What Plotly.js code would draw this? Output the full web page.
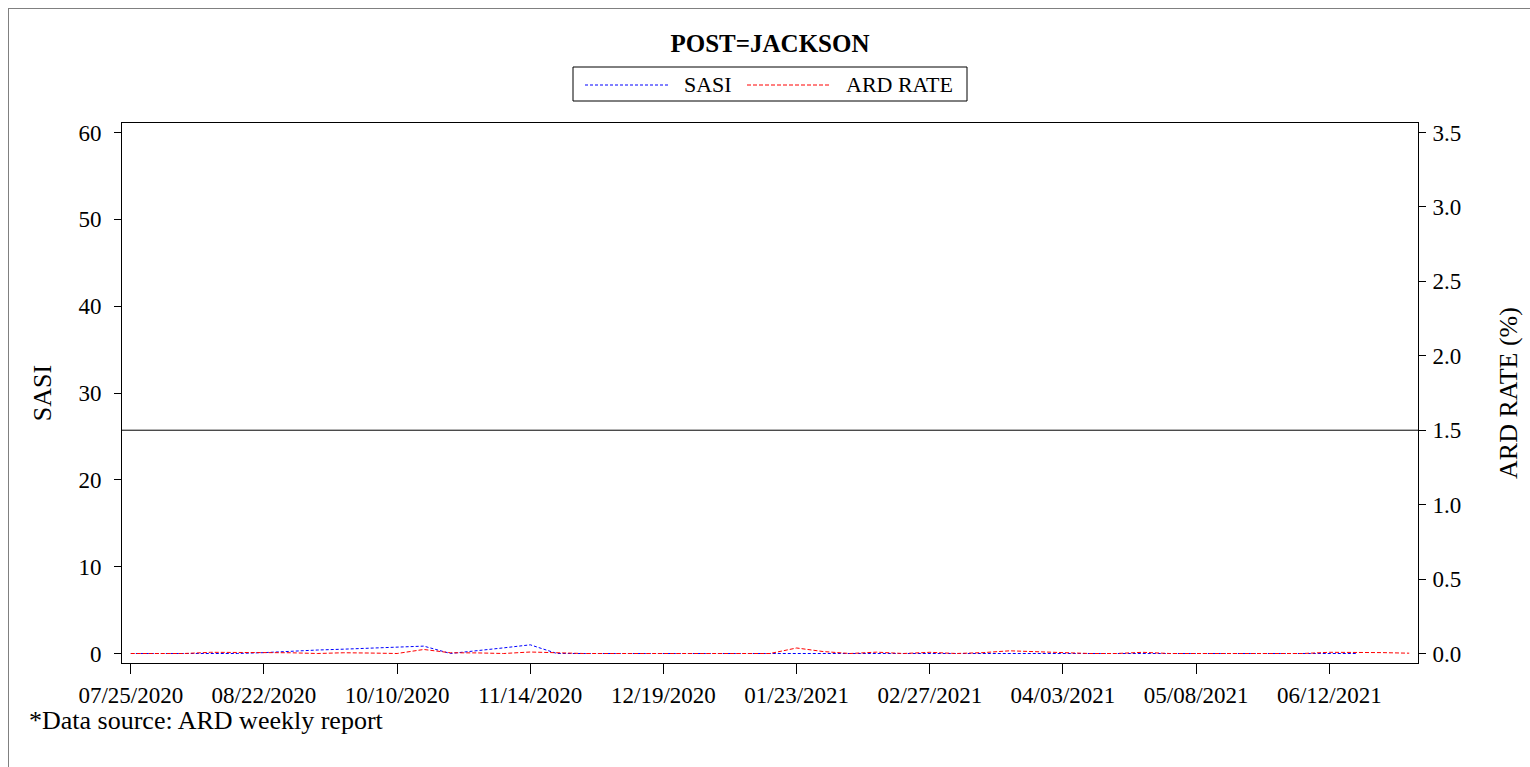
<!DOCTYPE html>
<html>
<head>
<meta charset="utf-8">
<script src="https://cdn.plot.ly/plotly-3.0.1.min.js"></script>
<style>
  html, body { margin: 0; padding: 0; background: #fff; }
  #wrap { position: relative; width: 1530px; height: 767px; overflow: hidden; }
  #frame { position: absolute; left: 8px; top: 8px; width: 1600px; height: 800px;
           border-left: 1px solid #808080; border-top: 1px solid #808080; pointer-events: none; }
  #chart { position: absolute; left: 0; top: 0; width: 1530px; height: 767px; }
</style>
</head>
<body>
<div id="wrap">
  <div id="chart"></div>
  <div id="frame"></div>
</div>
<script>
// ---- data ----
const weekIndex = [0,1,2,3,4,5,6,7,8,9,10,11,12,13,14,15,16,17,18,19,20,21,22,23,24,
                   25,26,27,28,29,30,31,32,33,34,35,36,37,38,39,40,41,42,43,44,45,46,47,48];
const tickIndex = [0,5,10,15,20,25,30,35,40,45];
const tickLabels = ['07/25/2020','08/22/2020','10/10/2020','11/14/2020','12/19/2020',
                    '01/23/2021','02/27/2021','04/03/2021','05/08/2021','06/12/2021'];
const sasiValues = [0,0,0,0,0,0.1,0.28,0.4,0.5,0.6,0.72,0.85,0,0.3,0.65,1.0,
                    0,0,0,0,0,0,0,0,0,0,0,0,0,0,0,0,0,0,0,0,0,0,0,0,0,0,0,0,0,0,0];
const ardValues = [0,0,0,0.008,0.008,0.003,0.005,0,0.005,0.003,0,0.027,0.005,0.004,0,0.01,0.003,
                   0,0,0,0,0,0,0,0,0.037,0.013,0,0.009,0,0.008,0,0.006,0.018,0.012,0.009,0,0,
                   0.008,0,0,0,0,0,0,0.008,0.008,0.006,0.002];
const seriesNames = ['SASI', 'ARD RATE'];
const ardReference = 1.5;
const leftTicks = [0,10,20,30,40,50,60];
const rightTicks = [0.0,0.5,1.0,1.5,2.0,2.5,3.0,3.5];
const chartTitle = 'POST=JACKSON';
const footnote = '*Data source: ARD weekly report';

// ---- layout helpers ----
const FONT = '"Liberation Serif", "Times New Roman", serif';
const L = 122, R = 1418, T = 123, B = 663, W = 1530, H = 767;
const px = x => (x - L) / (R - L);
const py = y => (B - y) / (B - T);
const pad = 9.5 / 521;
const yRange = [-60 * pad, 60 * (1 + pad)];
const y2Range = [-3.5 * pad, 3.5 * (1 + pad)];

const traces = [
  { x: weekIndex.slice(0, sasiValues.length), y: sasiValues, name: seriesNames[0],
    type: 'scatter', mode: 'lines', yaxis: 'y',
    line: { color: '#0000ff', width: 1, dash: '3px,2px' }, showlegend: false },
  { x: weekIndex, y: ardValues, name: seriesNames[1],
    type: 'scatter', mode: 'lines', yaxis: 'y2',
    line: { color: '#ff0000', width: 1, dash: '4px,2px' }, showlegend: false }
];

const axisFont = { family: FONT, size: 23, color: '#000' };

const layout = {
  width: W, height: H,
  margin: { l: L, r: W - R, t: T, b: H - B, pad: 0 },
  paper_bgcolor: 'rgba(0,0,0,0)', plot_bgcolor: '#fff',
  font: { family: FONT, color: '#000' },
  showlegend: false,
  title: { text: '<b>' + chartTitle + '</b>', font: { family: FONT, size: 25, color: '#000' },
           x: 0.5, xref: 'paper', xanchor: 'center', y: 1 - 43 / H, yanchor: 'middle' },
  xaxis: {
    range: [-0.33, 48.33], tickmode: 'array', tickvals: tickIndex, ticktext: tickLabels,
    showgrid: false, zeroline: false, showline: true, linecolor: '#000', linewidth: 1, mirror: true,
    ticks: 'outside', ticklen: 10, tickcolor: '#000', tickwidth: 1, tickfont: axisFont,
    ticklabelstandoff: 1
  },
  yaxis: {
    range: yRange, tickmode: 'array', tickvals: leftTicks, ticktext: leftTicks.map(String),
    showgrid: false, zeroline: false, showline: true, linecolor: '#000', linewidth: 1, mirror: true,
    ticks: 'outside', ticklen: 7, tickcolor: '#000', tickwidth: 1, tickfont: axisFont,
    ticklabelstandoff: 8,
    title: { text: seriesNames[0], font: { family: FONT, size: 26, color: '#000' }, standoff: 19 }
  },
  yaxis2: {
    range: y2Range, overlaying: 'y', side: 'right', tickmode: 'array', tickvals: rightTicks,
    ticktext: rightTicks.map(v => v.toFixed(1)),
    showgrid: false, zeroline: false, showline: false,
    ticks: 'outside', ticklen: 7, tickcolor: '#000', tickwidth: 1, tickfont: axisFont,
    ticklabelstandoff: 2,
    title: { text: seriesNames[1] + ' (%)', font: { family: FONT, size: 26, color: '#000' }, standoff: 38 }
  },
  shapes: [
    { type: 'line', xref: 'paper', yref: 'y2', x0: 0, x1: 1, y0: ardReference, y1: ardReference,
      line: { color: '#000', width: 1 } },
    // legend box
    { type: 'rect', xref: 'paper', yref: 'paper', x0: px(573), x1: px(967), y0: py(101), y1: py(67),
      line: { color: '#000', width: 1 }, fillcolor: 'rgba(0,0,0,0)' },
    { type: 'line', xref: 'paper', yref: 'paper', x0: px(585), x1: px(668), y0: py(85), y1: py(85),
      line: { color: '#0000ff', width: 1, dash: '3px,2px' } },
    { type: 'line', xref: 'paper', yref: 'paper', x0: px(747), x1: px(830), y0: py(85), y1: py(85),
      line: { color: '#ff0000', width: 1, dash: '4px,2px' } }
  ],
  annotations: [
    { text: seriesNames[0], xref: 'paper', yref: 'paper', x: px(682), y: py(85),
      xanchor: 'left', yanchor: 'middle', showarrow: false,
      font: { family: FONT, size: 22, color: '#000' } },
    { text: seriesNames[1], xref: 'paper', yref: 'paper', x: px(844), y: py(85),
      xanchor: 'left', yanchor: 'middle', showarrow: false,
      font: { family: FONT, size: 22, color: '#000' } },
    { text: footnote, xref: 'paper', yref: 'paper', x: px(27), y: py(720),
      xanchor: 'left', yanchor: 'middle', showarrow: false,
      font: { family: FONT, size: 26, color: '#000' } }
  ]
};

Plotly.newPlot('chart', traces, layout, { displayModeBar: false, staticPlot: true });
</script>
</body>
</html>
